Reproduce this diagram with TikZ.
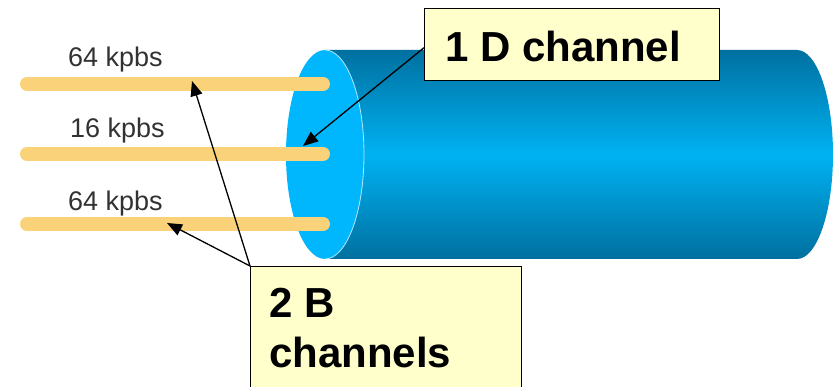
\documentclass[tikz,border=0pt]{standalone}
\usepackage{fontspec}
\setmainfont{Liberation Sans}
\usetikzlibrary{arrows.meta}
\definecolor{barcol}{RGB}{250,210,122}
\definecolor{tubedark}{RGB}{0,112,160}
\definecolor{tubelight}{RGB}{0,178,242}
\definecolor{tubeface}{RGB}{0,182,252}
\definecolor{notecol}{RGB}{255,255,204}
\definecolor{labgray}{RGB}{50,50,50}
\tikzset{
  bar/.style={line width=14pt, line cap=round, draw=barcol},
  ratelabel/.style={anchor=base west, inner sep=0pt, text=labgray,
    font=\fontsize{27}{30}\selectfont},
  notebox/.style={draw=black, line width=1.4pt, fill=notecol, inner sep=0pt,
    anchor=north west},
  notetext/.style={font=\bfseries\fontsize{42}{50}\selectfont, inner sep=0pt},
  pointer/.style={draw=black, line width=1.3pt,
    -{Triangle[length=15pt,width=12pt]}}
}
\begin{document}
\begin{tikzpicture}[x=1pt,y=-1pt]
\useasboundingbox (0,0) rectangle (839,387);
\clip (0,0) rectangle (839,387);

% cable body with rounded far end
\shade[top color=tubedark, bottom color=tubedark, middle color=tubelight]
  (325,50) -- (797,50) arc[start angle=-90, end angle=90, x radius=36, y radius=104.5]
  -- (325,259) -- cycle;
% front face of the cable
\fill[tubeface] (325,154.5) ellipse[x radius=39, y radius=104.5];
\draw[white!70!tubeface, line width=0.8pt]
  (325,50) arc[start angle=-90, end angle=90, x radius=39, y radius=104.5];

% the three channels
\coordinate (b1w) at (27,84);  \coordinate (b1e) at (323,84);
\coordinate (b2w) at (27,154); \coordinate (b2e) at (323,154);
\coordinate (b3w) at (27,224); \coordinate (b3e) at (323,224);
\draw[bar] (b1w) -- (b1e);
\draw[bar] (b2w) -- (b2e);
\draw[bar] (b3w) -- (b3e);

\node[ratelabel] (r1) at (68,67) {64 kpbs};
\node[ratelabel] (r2) at (70,138) {16 kpbs};
\node[ratelabel] (r3) at (68,211) {64 kpbs};

% pointer targets
\coordinate (tipD) at (303,146);
\coordinate (tipB1) at (192,81);
\coordinate (tipB2) at (167,223);

% callout boxes
\node[notebox, minimum width=295pt, minimum height=72pt] (dbox) at (424,8) {};
\node[notetext, anchor=base west] (dtext) at (445,62) {1 D channel};
\node[notebox, minimum width=271pt, minimum height=150pt] (bbox) at (250,266) {};
\node[notetext, align=left, anchor=north west] (btext) at (269,288) {2 B\\channels};

% pointers
\draw[pointer] ([yshift=-3pt]dbox.west) -- (tipD);
\draw[pointer] (bbox.north west) -- (tipB1);
\draw[pointer] (bbox.north west) -- (tipB2);
\end{tikzpicture}
\end{document}
